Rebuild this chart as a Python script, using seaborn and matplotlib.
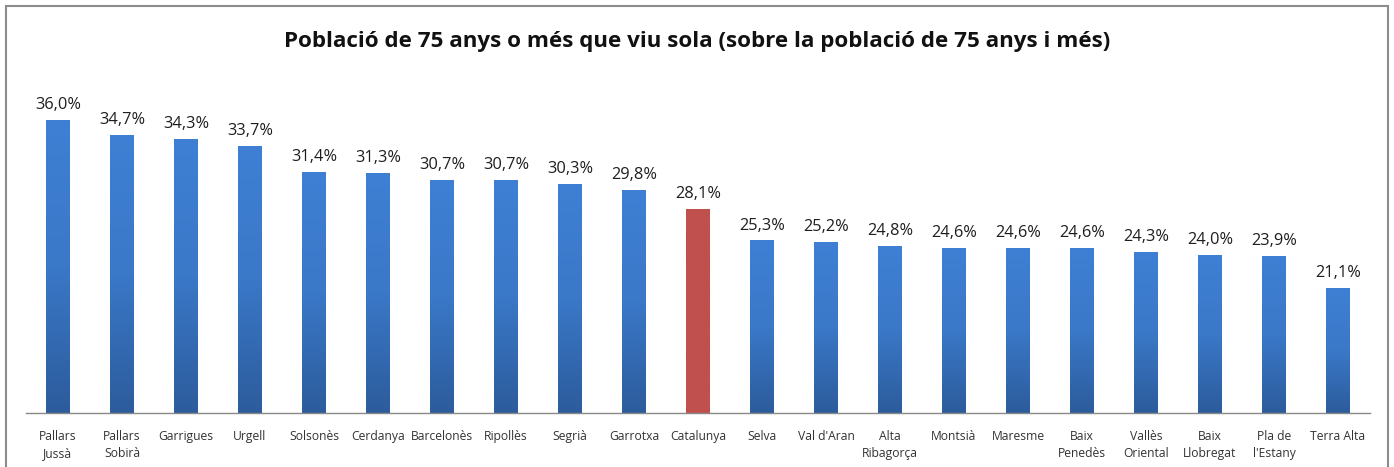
import numpy as np
import pandas as pd
import matplotlib
matplotlib.use("Agg")
import matplotlib.pyplot as plt
import seaborn as sns
from matplotlib.colors import LinearSegmentedColormap
from matplotlib.patches import Rectangle

comarques = ["Pallars\nJussà", "Pallars\nSobirà", "Garrigues", "Urgell", "Solsonès",
             "Cerdanya", "Barcelonès", "Ripollès", "Segrià", "Garrotxa", "Catalunya",
             "Selva", "Val d'Aran", "Alta\nRibagorça", "Montsià", "Maresme",
             "Baix\nPenedès", "Vallès\nOriental", "Baix\nLlobregat", "Pla de\nl'Estany",
             "Terra Alta"]
percentatge = [36.0, 34.7, 34.3, 33.7, 31.4, 31.3, 30.7, 30.7, 30.3, 29.8, 28.1,
               25.3, 25.2, 24.8, 24.6, 24.6, 24.6, 24.3, 24.0, 23.9, 21.1]
destacat = "Catalunya"

df = pd.DataFrame({"comarca": comarques, "valor": percentatge})

sns.set_theme(style="white")
plt.rcParams["font.family"] = ["Open Sans", "DejaVu Sans"]

fig = plt.figure(figsize=(13.94, 4.67), dpi=100)
ax = fig.add_axes([26 / 1394, 54 / 467, 1344 / 1394, 338.25 / 467])

colors = ["#c0504d" if c == destacat else "#3a78c8" for c in comarques]
sns.barplot(data=df, x="comarca", y="valor", hue="comarca", palette=colors,
            legend=False, width=0.375, ax=ax, saturation=1)

ax.set_ylim(10, 40)
ax.set_xlim(-0.5, len(comarques) - 0.5)

# vertical gradient fill for every bar
blue_cmap = LinearSegmentedColormap.from_list("blau", ["#2c5c9c", "#3a78c8", "#3f80d4"])
red_cmap = LinearSegmentedColormap.from_list("vermell", ["#c0504d", "#c0504d"])
grad = np.linspace(0, 1, 256).reshape(-1, 1)
for patch, name in zip(ax.patches, comarques):
    x0, y0 = patch.get_x(), patch.get_y()
    w, h = patch.get_width(), patch.get_height()
    cmap = red_cmap if name == destacat else blue_cmap
    im = ax.imshow(grad, cmap=cmap, aspect="auto", origin="lower",
                   extent=[x0, x0 + w, ax.get_ylim()[0], y0 + h], zorder=patch.get_zorder() + 0.1)
    im.set_clip_path(patch)

ax.set_ylim(10, 40)
ax.set_xlim(-0.5, len(comarques) - 0.5)

for i, v in enumerate(percentatge):
    ax.annotate(f"{v:.1f}%".replace(".", ","), (i, v), xytext=(0, 5),
                textcoords="offset points", ha="center", va="bottom",
                fontsize=11.8, color="#1e1e1e")

ax.set_xticks(range(len(comarques)))
ax.set_xticklabels(comarques, fontsize=8.7, color="#333333", linespacing=1.35)
ax.tick_params(axis="x", length=0, pad=12.5)
ax.set_yticks([])
ax.set_xlabel("")
ax.set_ylabel("")
for s in ["top", "right", "left"]:
    ax.spines[s].set_visible(False)
ax.spines["bottom"].set_color("#888888")
ax.spines["bottom"].set_linewidth(1.0)

fig.text(0.5, 1 - 41 / 467, "Població de 75 anys o més que viu sola (sobre la població de 75 anys i més)",
         ha="center", va="center", fontsize=16.1, fontweight="bold", color="#111111")

# chart frame
fig.add_artist(Rectangle((6 / 1394, -0.05), 1382 / 1394, (467 - 6) / 467 + 0.05,
                         transform=fig.transFigure, fill=False, edgecolor="#8c8c8c",
                         linewidth=1.5))

fig.savefig("out.png", dpi=100)
